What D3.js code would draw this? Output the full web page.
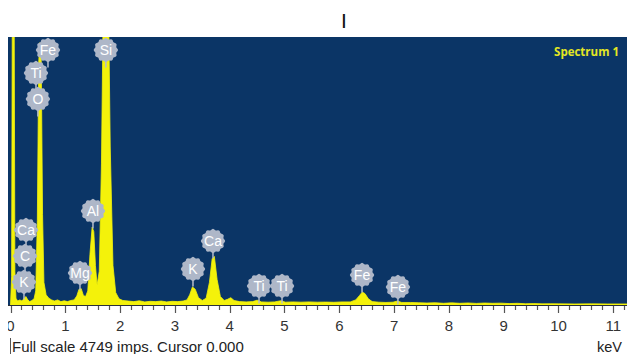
<!DOCTYPE html>
<html><head><meta charset="utf-8">
<script src="https://cdn.jsdelivr.net/npm/d3@7"></script>
<style>html,body{margin:0;padding:0;background:#fff;}svg{display:block;}</style>
</head><body>
<svg id="c" width="627" height="354"></svg>
<script>
// Spectrum data (energy in keV, counts)
const energy = [0.00,0.02,0.035,0.065,0.08,0.10,0.13,0.17,0.21,0.25,0.28,0.31,0.35,0.39,0.43,0.46,0.49,0.515,0.535,0.56,0.585,0.61,0.65,0.70,0.75,0.80,0.86,0.92,0.98,1.04,1.10,1.16,1.21,1.25,1.29,1.33,1.37,1.41,1.45,1.49,1.52,1.55,1.58,1.62,1.66,1.70,1.78,1.82,1.87,1.92,1.98,2.05,2.15,2.25,2.35,2.45,2.55,2.65,2.75,2.85,2.95,3.05,3.15,3.22,3.27,3.32,3.37,3.43,3.50,3.57,3.63,3.68,3.72,3.77,3.83,3.90,3.96,4.02,4.08,4.18,4.30,4.42,4.50,4.58,4.70,4.82,4.93,5.02,5.15,5.30,5.45,5.60,5.75,5.90,6.05,6.20,6.30,6.37,6.42,6.47,6.53,6.60,6.72,6.85,6.98,7.06,7.14,7.30,7.45,7.60,7.75,7.90,8.05,8.20,8.35,8.50,8.65,8.80,8.95,9.10,9.25,9.40,9.55,9.70,9.85,10.0,10.3,10.6,10.9,11.25];
const counts = [0,500,6000,6000,600,120,70,90,70,120,150,100,60,80,110,250,1500,4300,4650,4400,1600,400,180,120,90,70,90,60,75,60,80,90,160,280,290,170,150,250,900,1380,1300,700,350,600,2500,6000,6000,2800,700,220,110,80,70,60,75,55,65,60,70,55,65,60,70,90,180,320,280,130,80,120,400,820,860,450,150,80,100,130,80,60,55,60,85,55,50,55,75,50,55,50,55,50,52,48,55,55,90,170,230,200,110,60,50,45,50,70,45,45,40,35,40,30,38,30,36,28,35,30,33,25,30,22,25,20,22,20,18,20,18,18];

// Element labels: name, energy (keV), label level (counts)
const labelNames  = ["Fe","Ti","O","Si","Al","Ca","C","K","Mg","K","Ca","Ti","Ti","Fe","Fe"];
const labelEnergy = [0.684,0.465,0.50,1.74,1.505,0.283,0.265,0.246,1.268,3.33,3.695,4.535,4.955,6.415,7.07];
const labelLevel  = [4519,4111,3650,4519,1666,1329,868,408,567,638,1134,337,337,532,319];

const xTicks = [0,1,2,3,4,5,6,7,8,9,10,11];
const fullScale = 4749;

const svg = d3.select("#c");
const L = 10.5, R = 627, T = 37, B = 305;
const x = d3.scaleLinear().domain([0, 11.25]).range([L, R]);
const y = d3.scaleLinear().domain([0, fullScale]).range([B, T]);

// top marker
svg.append("text").attr("x",344).attr("y",28).attr("text-anchor","middle")
  .attr("font-family","Liberation Sans, Arial, sans-serif").attr("font-size",21).attr("fill","#111").text("I");

// plot background
svg.append("rect").attr("x",8).attr("y",T).attr("width",R-8).attr("height",B-T).attr("fill","#0b3566");

svg.append("clipPath").attr("id","clip").append("rect").attr("x",8).attr("y",T).attr("width",R-8).attr("height",B-T);

const pts = energy.map((e,i)=>({e, c:counts[i]}));
const area = d3.area().x(d=>x(d.e)).y0(y(0)).y1(d=>y(d.c));
svg.append("path").datum(pts).attr("clip-path","url(#clip)")
  .attr("d",area).attr("fill","#f4f20a").attr("stroke","#f4f20a").attr("stroke-width",0.8);

// baseline dark line
svg.append("line").attr("x1",8).attr("x2",R).attr("y1",B+0.5).attr("y2",B+0.5).attr("stroke","#2a2f3a").attr("stroke-width",1);

// ticks every 0.2 keV
const minor = d3.range(0, 11.3, 0.2);
svg.append("g").selectAll("line").data(minor).join("line")
  .attr("x1",d=>Math.round(x(d))+0.5).attr("x2",d=>Math.round(x(d))+0.5)
  .attr("y1",B+1).attr("y2",d=>Math.abs(d-Math.round(d))<1e-6 ? B+8 : B+5)
  .attr("stroke","#555").attr("stroke-width",1.2);

// tick labels
svg.append("g").selectAll("text").data(xTicks).join("text")
  .attr("x",d=>x(d)).attr("y",331).attr("text-anchor","middle")
  .attr("font-family","Liberation Sans, Arial, sans-serif").attr("font-size",15).attr("fill","#333")
  .text(d=>d);
// white mask at left edge (cuts the "0")
svg.append("rect").attr("x",0).attr("y",B+2).attr("width",8).attr("height",30).attr("fill","#fff");

// element labels
const R0 = 11.5;
const scallop = d3.range(0, 73).map(i=>{
  const t = i/72*2*Math.PI; const r = R0 + 0.7*Math.cos(12*t);
  return [r*Math.cos(t), r*Math.sin(t)];
});
const lab = svg.append("g").attr("clip-path","url(#clip)");
labelNames.forEach((n,i)=>{
  const cx = x(labelEnergy[i]), cy = y(labelLevel[i]);
  const g = lab.append("g").attr("transform",`translate(${cx},${cy})`);
  g.append("line").attr("x1",0).attr("x2",0).attr("y1",R0-1).attr("y2",R0+6).attr("stroke","#b5bdcc").attr("stroke-width",1.5);
  g.append("path").attr("d",d3.line()(scallop)+"Z").attr("fill","#aeb7c8");
  g.append("text").attr("x",0).attr("y",5).attr("text-anchor","middle")
    .attr("font-family","Liberation Sans, Arial, sans-serif").attr("font-size",14).attr("fill","#fff").text(n);
});

// Spectrum label
svg.append("text").attr("x",619).attr("y",56).attr("text-anchor","end")
  .attr("font-family","Open Sans, Liberation Sans, sans-serif").attr("font-weight","bold").attr("font-size",11.5)
  .attr("fill","#e3e624").text("Spectrum 1");

// bottom texts
svg.append("text").attr("x",12).attr("y",352)
  .attr("font-family","Liberation Sans, Arial, sans-serif").attr("font-size",15).attr("fill","#222")
  .text("Full scale " + fullScale + " imps. Cursor 0.000");
svg.append("text").attr("x",597).attr("y",352)
  .attr("font-family","Liberation Sans, Arial, sans-serif").attr("font-size",14.5).attr("fill","#222").text("keV");
svg.append("line").attr("x1",10.5).attr("x2",10.5).attr("y1",338).attr("y2",354).attr("stroke","#555");
</script>
</body></html>
